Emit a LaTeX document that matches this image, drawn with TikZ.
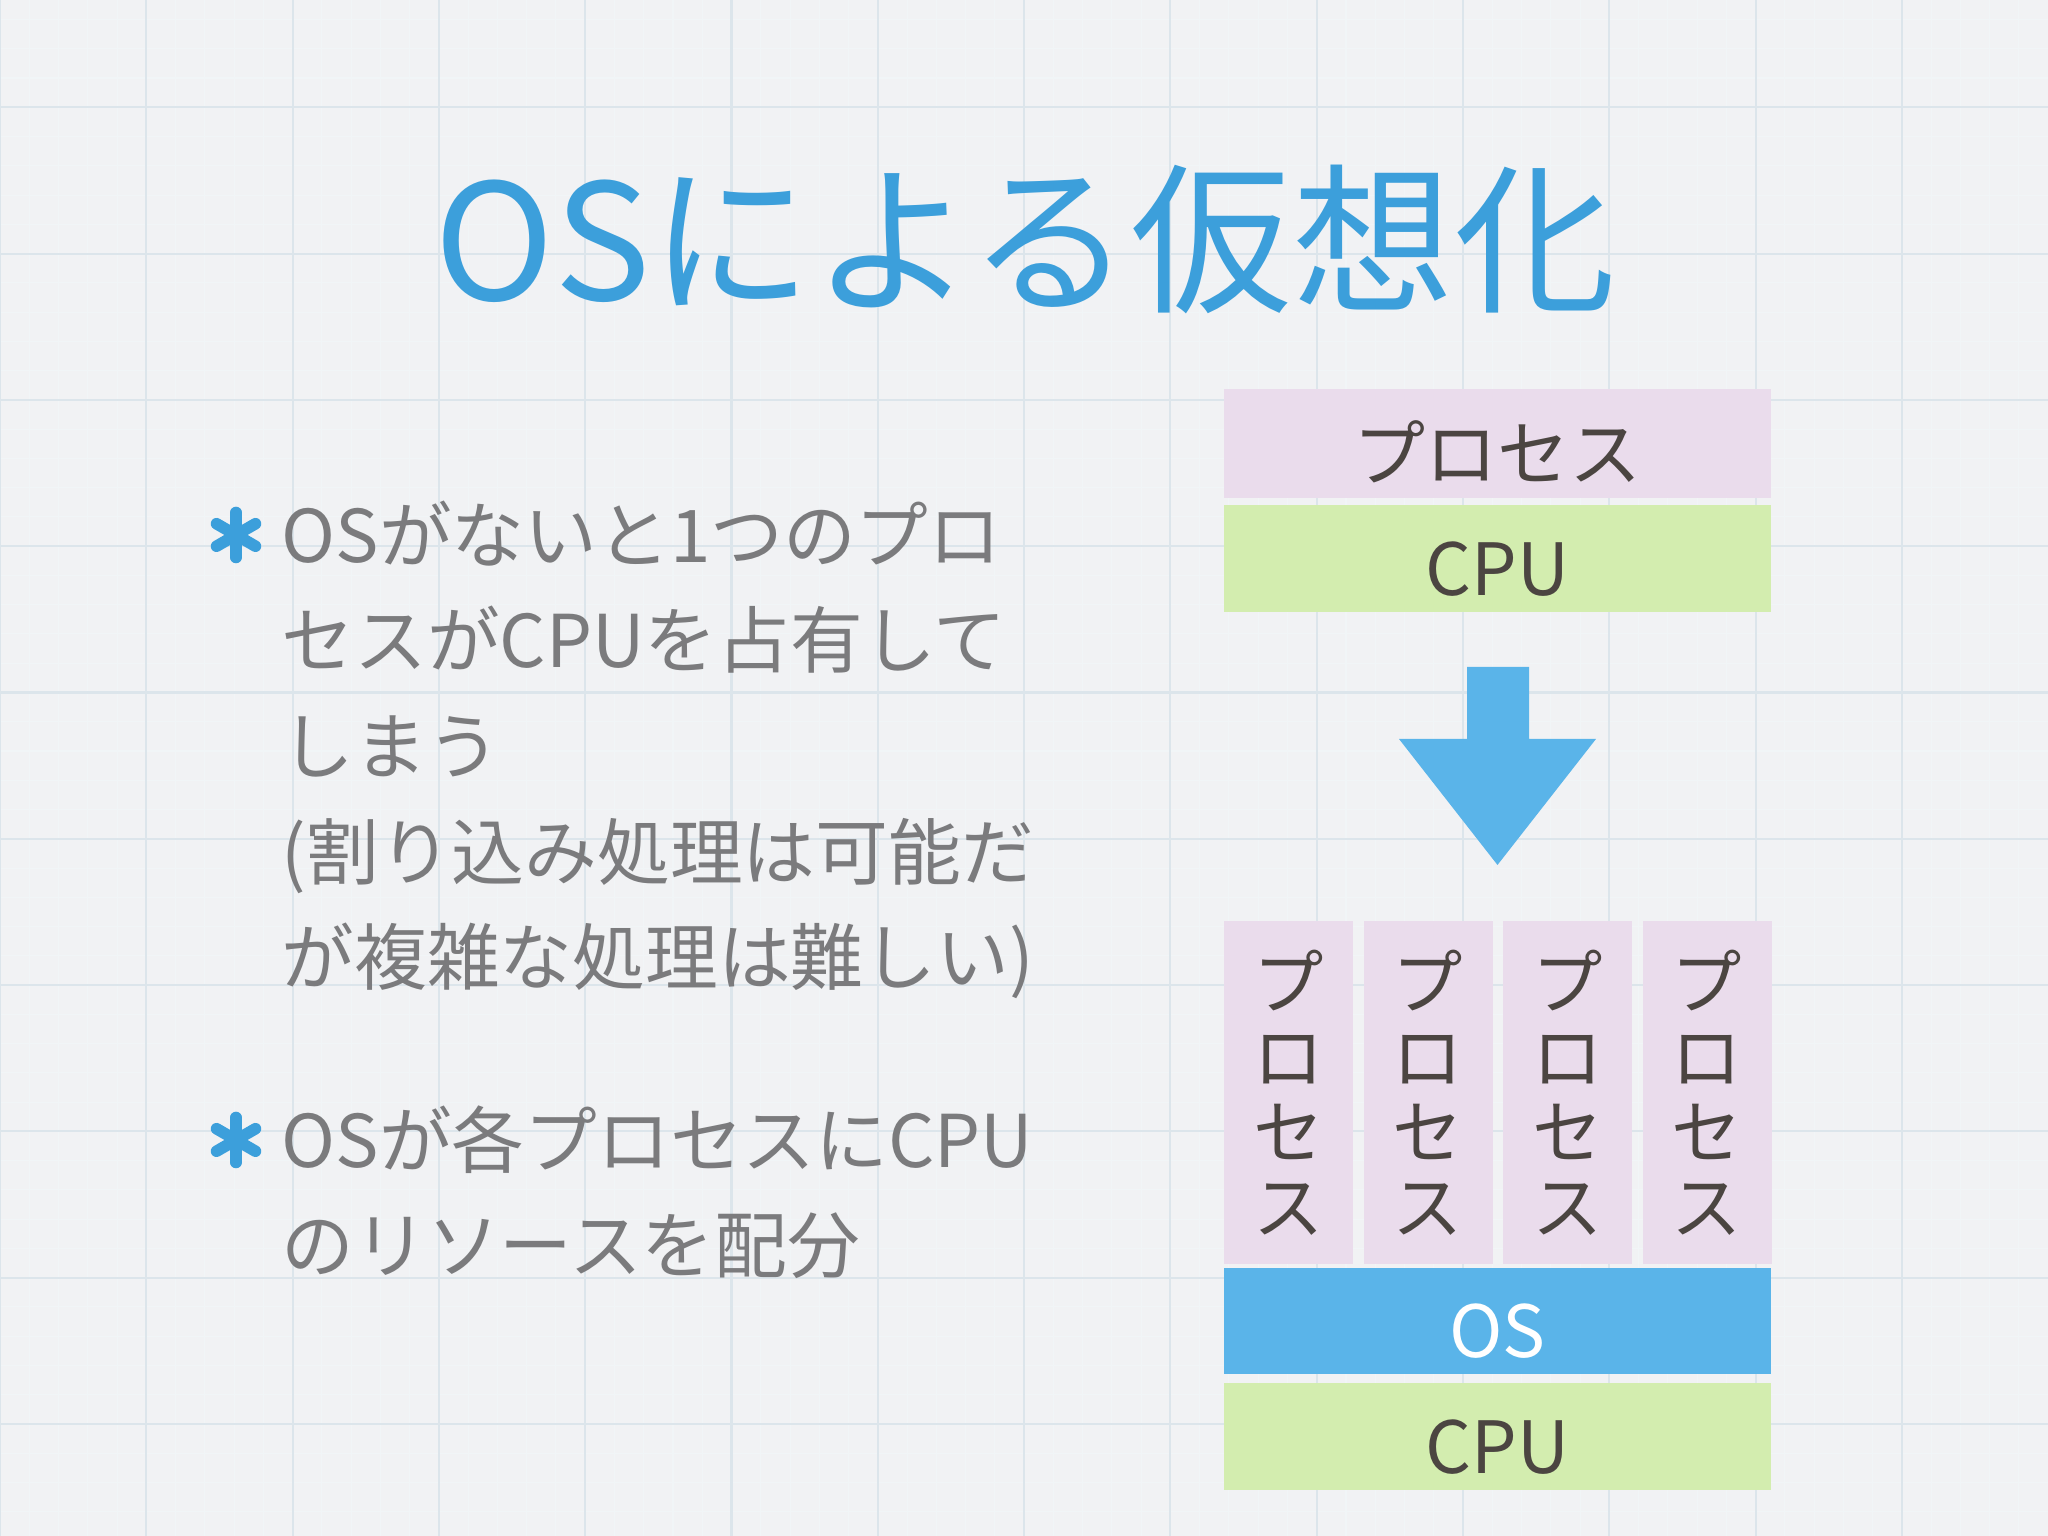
\documentclass[tikz,border=0pt]{standalone}
\usepackage{fontspec}
\newfontfamily\jp{Noto Sans CJK JP}
\usetikzlibrary{positioning}
\definecolor{paper}{HTML}{F1F2F4}
\definecolor{gridln}{HTML}{DCE5EB}
\definecolor{sky}{HTML}{3C9FDB}
\definecolor{osblue}{HTML}{5AB4E9}
\definecolor{lilac}{HTML}{EADCEC}
\definecolor{lime}{HTML}{D3EDAF}
\definecolor{slate}{HTML}{7B7B7D}
\definecolor{umber}{HTML}{4B4541}
\tikzset{
  layer/.style={minimum width=5.47cm,minimum height=1.07cm,inner sep=0pt,
    text=umber,font=\jp\fontsize{20.5}{22}\selectfont,text height=0.82cm,text depth=0.08cm},
  column/.style={minimum width=1.29cm,minimum height=3.43cm,inner sep=0pt,fill=lilac,
    text=umber,align=center,font=\jp\fontsize{20}{21.3}\selectfont},
  body/.style={inner sep=0pt,anchor=west,text=slate,font=\jp\fontsize{20.7}{25}\selectfont,
    text height=0.64cm,text depth=0.09cm},
  bullet/.style={sky,line width=3.3pt,line cap=round}
}

\begin{document}
\begin{tikzpicture}
\useasboundingbox (0,0) rectangle (20.48,15.36);
\fill[paper] (0,0) rectangle (20.48,15.36);
\draw[gridln!40,line width=0.3pt,yshift=1.12cm,step=0.2926] (0,-1.12) grid (20.48,14.24);
\draw[gridln,line width=0.6pt,yshift=1.12cm,step=1.463] (0,-1.12) grid (20.48,14.24);

\node[text=sky,inner sep=0pt,font=\jp\fontsize{46}{50}\selectfont,text height=1.4cm,text depth=0.17cm]
  (title) at (10.25,12.97) {OSによる仮想化};

\foreach \t/\y [count=\i] in {{OSがないと1つのプロ}/10.01,{セスがCPUを占有して}/8.96,{しまう}/7.90,
  {(割り込み処理は可能だ}/6.84,{が複雑な処理は難しい)}/5.79,{OSが各プロセスにCPU}/3.96,{のリソースを配分}/2.91}
  \node[body] (l\i) at (2.81,\y) {\t};
\foreach \n in {l1,l6}
  \foreach \a in {90,30,150}
    \draw[bullet] ([xshift=-0.45cm]\n.west) +(\a:0.225) -- +(\a+180:0.225);

\node[layer,fill=lilac,minimum height=1.09cm] (proc) at (14.975,10.925) {プロセス};
\node[layer,fill=lime,below=0.06cm of proc] (cpu1) {CPU};

\fill[osblue] (14.67,8.69) -- (15.29,8.69) -- (15.29,7.97) -- (15.96,7.97) -- (14.975,6.71)
  -- (13.99,7.97) -- (14.67,7.97) -- cycle;

\node[layer,fill=lime] (cpu2) at (14.975,0.995) {CPU};
\node[layer,fill=osblue,text=white,minimum height=1.06cm,above=0.08cm of cpu2] (os) {OS};
\foreach \i in {0,...,3}
  \node[column] (p\i) at (12.885+1.395*\i,4.435) {プ\\ロ\\セ\\ス};
\end{tikzpicture}
\end{document}
